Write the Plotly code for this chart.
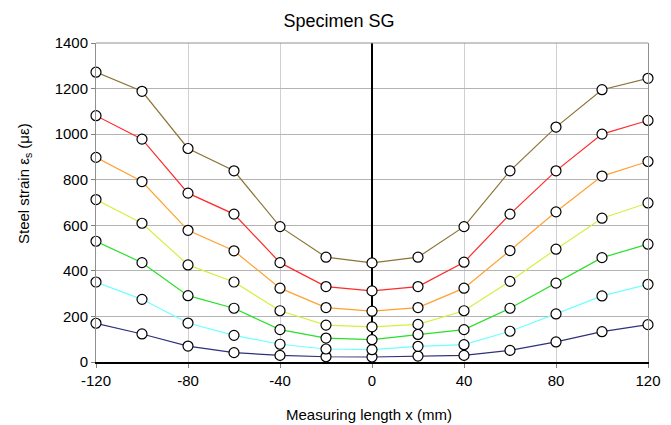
import plotly.graph_objects as go

x_mm = [-120, -100, -80, -60, -40, -20, 0, 20, 40, 60, 80, 100, 120]

s_navy   = [170, 123, 70, 41, 29, 23, 22, 26, 29, 51, 88, 133, 164]
s_cyan   = [351, 275, 171, 117, 78, 57, 54, 69, 76, 135, 211, 290, 341]
s_green  = [530, 436, 291, 236, 142, 105, 98, 121, 142, 236, 346, 458, 517]
s_yellow = [713, 609, 426, 351, 225, 162, 154, 165, 225, 354, 495, 631, 698]
s_orange = [898, 792, 578, 488, 324, 239, 223, 239, 324, 489, 659, 816, 880]
s_red    = [1081, 978, 741, 649, 436, 331, 312, 331, 438, 649, 839, 1000, 1060]
s_brown  = [1272, 1188, 937, 839, 594, 460, 435, 460, 594, 839, 1031, 1195, 1245]

x_tick_vals = [-120, -80, -40, 0, 40, 80, 120]
x_tick_text = ["-120", "-80", "-40", "0", "40", "80", "120"]

series = [s_navy, s_cyan, s_green, s_yellow, s_orange, s_red, s_brown]
colors = ["#30307a", "#70ffff", "#28e028", "#d4f040", "#ffa030", "#ff2a2a", "#8c7438"]

title_text = "Specimen SG"
x_title = "Measuring length x (mm)"
y_title = "Steel strain ε<sub>s</sub> (με)"

W, H = 671, 425
ML, MR, MT, MB = 96, 23, 43, 63
PW, PH = W - ML - MR, H - MT - MB

fig = go.Figure()
for ys, c in zip(series, colors):
    fig.add_trace(go.Scatter(
        x=x_mm, y=ys, mode="lines+markers",
        line=dict(color=c, width=1.2),
        marker=dict(symbol="circle", size=10, color="white",
                    line=dict(color="black", width=1.2)),
        cliponaxis=False, showlegend=False,
    ))

font_family = "Liberation Sans, Arial, sans-serif"
fig.update_layout(
    width=W, height=H,
    margin=dict(l=ML, r=MR, t=MT, b=MB, autoexpand=False),
    paper_bgcolor="white", plot_bgcolor="white",
    font=dict(family=font_family, size=15, color="black"),
    title=dict(text=title_text, x=339 / W, xref="container", xanchor="center",
               y=1 - 21 / H, yref="container", yanchor="middle",
               font=dict(size=18)),
    xaxis=dict(
        range=[-120, 120], tickvals=x_tick_vals, ticktext=x_tick_text,
        showgrid=True, gridcolor="#d0d0d0", gridwidth=1,
        showline=True, linecolor="black", linewidth=1.5, mirror=False,
        zeroline=True, zerolinecolor="black", zerolinewidth=1.5,
        ticks="outside", ticklen=4, tickcolor="#808080",
        tickfont=dict(size=15), automargin=False,
    ),
    yaxis=dict(
        range=[0, 1400], dtick=200,
        showgrid=True, gridcolor="#b4b4b4", gridwidth=1,
        showline=True, linecolor="#909090", linewidth=1, mirror=True,
        zeroline=False,
        ticks="outside", ticklen=4, tickcolor="#808080",
        tickfont=dict(size=15), automargin=False,
    ),
    shapes=[dict(type="line", xref="paper", yref="paper", x0=0, x1=1, y0=1, y1=1,
                 line=dict(color="#909090", width=1))],
    annotations=[
        dict(text=x_title, xref="paper", yref="paper",
             x=(368.5 - ML) / PW, y=(H - MB - 414) / PH,
             xanchor="center", yanchor="middle", showarrow=False,
             font=dict(size=15)),
        dict(text=y_title, xref="paper", yref="paper",
             x=(24 - ML) / PW, y=(H - MB - 184) / PH, textangle=-90,
             xanchor="center", yanchor="middle", showarrow=False,
             font=dict(size=15)),
    ],
)

fig.write_html("out.html", config={"displayModeBar": False},
               post_script="document.body.style.margin='0';")
